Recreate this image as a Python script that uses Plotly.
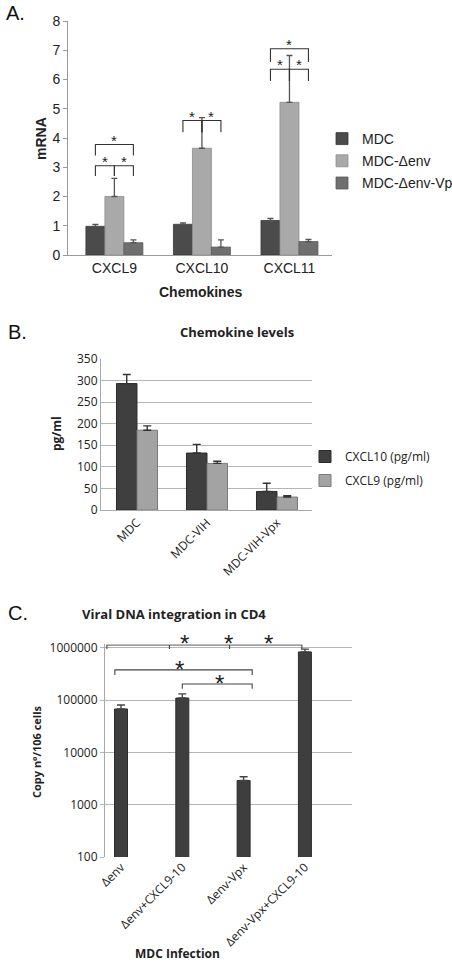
import math
import plotly.graph_objects as go

W, H = 452, 962

# ---------------- Panel A data ----------------
a_categories = ["CXCL9", "CXCL10", "CXCL11"]
a_series = ["MDC", "MDC-Δenv", "MDC-Δenv-Vpx"]
a_mdc = [0.98, 1.05, 1.18]
a_mdc_err = [0.07, 0.05, 0.07]
a_env = [2.00, 3.65, 5.22]
a_env_err = [0.62, 1.05, 1.60]
a_vpx = [0.42, 0.27, 0.46]
a_vpx_err = [0.10, 0.25, 0.07]
# significance brackets: (category, from series, to series, line level, leg end, star level)
a_brackets = [
    (0, 0, 2, 3.78, 3.40, 3.93),
    (0, 0, 1, 3.05, 2.70, 3.20),
    (0, 1, 2, 3.05, 2.70, 3.20),
    (1, 0, 1, 4.60, 4.20, 4.75),
    (1, 1, 2, 4.60, 4.20, 4.75),
    (2, 0, 2, 7.05, 6.60, 7.20),
    (2, 0, 1, 6.35, 5.95, 6.50),
    (2, 1, 2, 6.35, 5.95, 6.50),
]

# ---------------- Panel B data ----------------
b_categories = ["MDC", "MDC-VIH", "MDC-VIH-Vpx"]
b_series = ["CXCL10 (pg/ml)", "CXCL9 (pg/ml)"]
b_cxcl10 = [293, 132, 43]
b_cxcl10_err = [21, 20, 19]
b_cxcl9 = [185, 108, 30]
b_cxcl9_err = [10, 5, 3]

# ---------------- Panel C data ----------------
c_categories = ["Δenv", "Δenv+CXCL9-10", "Δenv-Vpx", "Δenv-Vpx+CXCL9-10"]
c_values = [68000, 110000, 2900, 840000]
c_err = [13000, 22000, 530, 110000]
# top multi-leg bracket: leg positions (category units) and star positions
c_top_legs = [-0.23, 0.79, 1.77, 2.95]
c_top_level = 1140000
c_top_leg_end = 960000
c_top_stars_x = [1.04, 1.75, 2.40]
# simple brackets: (from, to, line level, leg end, star x, star level)
c_brackets = [
    (-0.10, 2.14, 380000, 305000, 0.96, 390000),
    (1.00, 2.14, 205000, 165000, 1.60, 205000),
]


def px_x(p):
    return p / W


def px_y(p):
    return 1 - p / H


fig = go.Figure()
annos = []

# ---------- Panel A bars ----------
a_w = 0.217
a_cols = ["#4b4b4b", "#a9a9a9", "#6f6f6f"]
a_lines = ["#383838", "#8d8d8d", "#595959"]
for k, (name, vals, errs) in enumerate(zip(a_series, [a_mdc, a_env, a_vpx],
                                           [a_mdc_err, a_env_err, a_vpx_err])):
    fig.add_trace(go.Bar(
        x=list(range(len(a_categories))), y=vals, name=name,
        width=a_w, offset=(k - 1) * a_w - a_w / 2,
        marker=dict(color=a_cols[k], line=dict(color=a_lines[k], width=0.8)),
        error_y=dict(type="data", symmetric=False, array=errs,
                     arrayminus=[0] * len(errs), color="#555555",
                     thickness=1.3, width=3),
        xaxis="x", yaxis="y", legend="legend", legendgroup="a%d" % k,
    ))

for cat, s0, s1, lvl, leg, star in a_brackets:
    x0 = cat + (s0 - 1) * a_w
    x1 = cat + (s1 - 1) * a_w
    fig.add_trace(go.Scatter(
        x=[x0, x0, x1, x1], y=[leg, lvl, lvl, leg], mode="lines",
        line=dict(color="#333333", width=1.1), showlegend=False,
        hoverinfo="skip", xaxis="x", yaxis="y"))
    annos.append(dict(text="*", x=(x0 + x1) / 2, y=star, xref="x", yref="y",
                      font=dict(family="Liberation Sans", size=15,
                                color="#222222")))

# ---------- Panel B bars ----------
b_w = 0.293
b_cols = ["#3f3f3f", "#a3a3a3"]
b_lines = ["#2a2a2a", "#7a7a7a"]
for k, (name, vals, errs) in enumerate(zip(b_series, [b_cxcl10, b_cxcl9],
                                           [b_cxcl10_err, b_cxcl9_err])):
    fig.add_trace(go.Bar(
        x=list(range(len(b_categories))), y=vals, name=name,
        width=b_w, offset=(k - 1) * b_w,
        marker=dict(color=b_cols[k], line=dict(color=b_lines[k], width=1)),
        error_y=dict(type="data", symmetric=False, array=errs,
                     arrayminus=[0] * len(errs), color="#333333",
                     thickness=1.4, width=4),
        xaxis="x2", yaxis="y2", legend="legend2", legendgroup="b%d" % k,
    ))

# ---------- Panel C bars ----------
c_w = 0.212
fig.add_trace(go.Bar(
    x=list(range(len(c_categories))), y=c_values, name="Copy",
    width=c_w, offset=-c_w / 2,
    marker=dict(color="#3e3e3e", line=dict(color="#2c2c2c", width=1)),
    error_y=dict(type="data", symmetric=False, array=c_err,
                 arrayminus=[0] * len(c_err), color="#444444",
                 thickness=1.4, width=4),
    xaxis="x3", yaxis="y3", showlegend=False,
))

top_x = [c_top_legs[0]]
top_y = [c_top_leg_end]
for lx in c_top_legs:
    top_x += [lx, lx, lx]
    top_y += [c_top_level, c_top_leg_end, c_top_level]
top_x.append(c_top_legs[-1])
top_y.append(c_top_leg_end)
fig.add_trace(go.Scatter(
    x=top_x, y=top_y, mode="lines", line=dict(color="#444444", width=1.1),
    showlegend=False, hoverinfo="skip", xaxis="x3", yaxis="y3"))
star_font_c = dict(family="Liberation Sans", size=24, color="#222222")
for sx in c_top_stars_x:
    annos.append(dict(text="*", x=sx, y=px_y(643), xref="x3", yref="paper",
                      font=star_font_c))
for x0, x1, lvl, leg, sx, sy in c_brackets:
    fig.add_trace(go.Scatter(
        x=[x0, x0, x1, x1], y=[leg, lvl, lvl, leg], mode="lines",
        line=dict(color="#444444", width=1.1), showlegend=False,
        hoverinfo="skip", xaxis="x3", yaxis="y3"))
    annos.append(dict(text="*", x=sx, y=math.log10(sy), xref="x3", yref="y3",
                      font=star_font_c))

arial = "Liberation Sans"
calibri = "Open Sans"

fig.update_layout(
    width=W, height=H,
    margin=dict(l=0, r=0, t=0, b=0, autoexpand=False),
    paper_bgcolor="white", plot_bgcolor="white", barmode="overlay",
    showlegend=True,
    # ---- A axes ----
    xaxis=dict(domain=[px_x(68), px_x(332)], anchor="y",
               range=[-0.53, 2.486], tickmode="array",
               tickvals=list(range(len(a_categories))), ticktext=a_categories,
               showline=True, linecolor="#9a9a9a", linewidth=1, ticks="",
               showgrid=False, zeroline=False,
               tickfont=dict(family=arial, size=14, color="#222222")),
    yaxis=dict(domain=[px_y(255), px_y(21)], anchor="x", range=[0, 8],
               dtick=1, showline=True, linecolor="#9a9a9a", ticks="outside",
               ticklen=4, tickcolor="#9a9a9a", showgrid=False, zeroline=False,
               tickfont=dict(family=arial, size=14, color="#222222")),
    # ---- B axes ----
    xaxis2=dict(domain=[px_x(101), px_x(312)], anchor="y2",
                range=[-0.514, 2.5], tickmode="array",
                tickvals=list(range(len(b_categories))), ticktext=b_categories,
                tickangle=-45, showline=True, linecolor="#a8a8a8", ticks="",
                showgrid=False, zeroline=False,
                tickfont=dict(family=calibri, size=12, color="#222222")),
    yaxis2=dict(domain=[px_y(510), px_y(359)], anchor="x2", range=[0, 350],
                dtick=50, showline=True, linecolor="#a8a8a8", ticks="",
                showgrid=True, gridcolor="#b5b5b5", gridwidth=1,
                zeroline=False,
                tickfont=dict(family=calibri, size=12, color="#222222")),
    # ---- C axes ----
    xaxis3=dict(domain=[px_x(105), px_x(352)], anchor="y3",
                range=[-0.261, 3.768], tickmode="array",
                tickvals=list(range(len(c_categories))), ticktext=c_categories,
                tickangle=-45, showline=False, ticks="",
                showgrid=False, zeroline=False,
                tickfont=dict(family=calibri, size=12, color="#222222")),
    yaxis3=dict(domain=[px_y(857), px_y(644.3)], anchor="x3", type="log",
                range=[2, 6.07], tickmode="array",
                tickvals=[100, 1000, 10000, 100000, 1000000],
                ticktext=["100", "1000", "10000", "100000", "1000000"],
                showline=True, linecolor="#a8a8a8", ticks="outside",
                ticklen=4, tickcolor="#b5b5b5", showgrid=True,
                gridcolor="#b5b5b5", zeroline=False,
                tickfont=dict(family=calibri, size=12, color="#222222")),
    legend=dict(x=px_x(322), y=px_y(123), xanchor="left", yanchor="top",
                font=dict(family=arial, size=14, color="#222222"),
                tracegroupgap=1, bgcolor="rgba(0,0,0,0)"),
    legend2=dict(x=px_x(305), y=px_y(442), xanchor="left", yanchor="top",
                 font=dict(family=calibri, size=12, color="#222222"),
                 tracegroupgap=5, bgcolor="rgba(0,0,0,0)"),
)

annos += [
    dict(text="A.", x=px_x(4), y=px_y(13), xanchor="left",
         font=dict(family=arial, size=20, color="#111111")),
    dict(text="B.", x=px_x(6), y=px_y(332), xanchor="left",
         font=dict(family=arial, size=20, color="#111111")),
    dict(text="C.", x=px_x(6), y=px_y(613), xanchor="left",
         font=dict(family=arial, size=20, color="#111111")),
    dict(text="<b>mRNA</b>", x=px_x(41), y=px_y(139), textangle=-90,
         font=dict(family=arial, size=14, color="#222222")),
    dict(text="<b>Chemokines</b>", x=px_x(200), y=px_y(292),
         font=dict(family=arial, size=14, color="#222222")),
    dict(text="<b>Chemokine levels</b>", x=px_x(237), y=px_y(332),
         font=dict(family=calibri, size=13, color="#222222")),
    dict(text="<b>pg/ml</b>", x=px_x(57), y=px_y(434), textangle=-90,
         font=dict(family=calibri, size=12, color="#222222")),
    dict(text="<b>Viral DNA integration in CD4</b>", x=px_x(174), y=px_y(614),
         font=dict(family=calibri, size=13, color="#222222")),
    dict(text="<b>Copy nº/106 cells</b>", x=px_x(36), y=px_y(752),
         textangle=-90, font=dict(family=calibri, size=11, color="#222222")),
    dict(text="<b>MDC Infection</b>", x=px_x(177), y=px_y(953),
         font=dict(family=calibri, size=12, color="#222222")),
]
for a in annos:
    a.setdefault("xref", "paper")
    a.setdefault("yref", "paper")
    a.setdefault("showarrow", False)
    a.setdefault("yanchor", "middle")
    a.setdefault("xanchor", "center")
fig.update_layout(annotations=annos)

fig.write_html("out.html")
